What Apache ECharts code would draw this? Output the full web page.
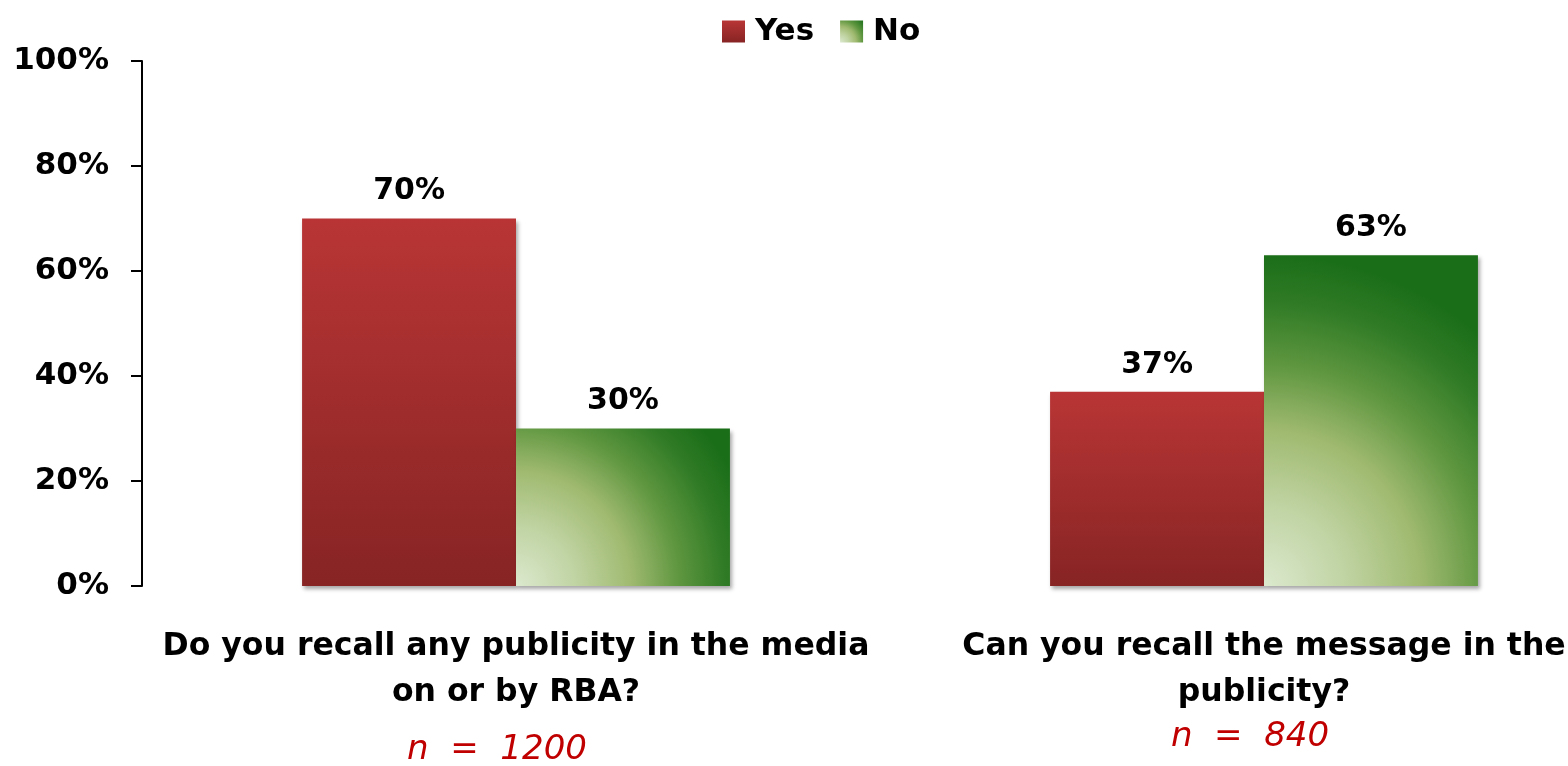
<!DOCTYPE html>
<html>
<head>
<meta charset="utf-8">
<script src="https://cdn.jsdelivr.net/npm/echarts@6/dist/echarts.min.js"></script>
<style>
html,body{margin:0;padding:0;background:#fff;}
#chart{width:1568px;height:766px;}
</style>
</head>
<body>
<div id="chart"></div>
<script>
const categories = [
  'Do you recall any publicity in the media\non or by RBA?',
  'Can you recall the message in the\npublicity?'
];
const sampleSizes = ['n = 1200', 'n = 840'];
const seriesNames = ['Yes', 'No'];
const yesValues = [70, 37];
const noValues = [30, 63];
const yTicks = [0, 20, 40, 60, 80, 100];

const FONT = '"DejaVu Sans", sans-serif';

const redGrad = new echarts.graphic.LinearGradient(0, 0, 0, 1, [
  {offset: 0, color: '#B93535'},
  {offset: 1, color: '#872424'}
]);
const greenGrad = new echarts.graphic.RadialGradient(0, 1, 1.55, [
  {offset: 0, color: '#DCE9CE'},
  {offset: 0.25, color: '#BFD3A2'},
  {offset: 0.47, color: '#A0BA70'},
  {offset: 0.67, color: '#5E963F'},
  {offset: 0.86, color: '#2F7A25'},
  {offset: 1, color: '#1B6E18'}
]);

const chart = echarts.init(document.getElementById('chart'));
const shadow = {
  shadowColor: 'rgba(0,0,0,0.35)',
  shadowBlur: 4,
  shadowOffsetX: 2,
  shadowOffsetY: 3
};
const labelCfg = {
  show: true,
  position: 'top',
  distance: 12,
  formatter: p => p.value + '%',
  color: '#000',
  fontFamily: FONT,
  fontWeight: 'bold',
  fontSize: 30
};

chart.setOption({
  animation: false,
  backgroundColor: '#fff',
  legend: {
    data: seriesNames,
    left: 717,
    top: 11,
    icon: 'rect',
    itemWidth: 23,
    itemHeight: 22,
    itemGap: 26,
    textStyle: {fontFamily: FONT, fontWeight: 'bold', fontSize: 31, color: '#000', padding: [0, 0, 0, 5]}
  },
  grid: {left: 142, width: 1496, top: 61, bottom: 180, containLabel: false, outerBoundsMode: 'none'},
  xAxis: {
    type: 'category',
    data: categories,
    axisLine: {show: false},
    axisTick: {show: false},
    axisLabel: {
      interval: 0,
      margin: 38,
      formatter: (v, i) => v.split('\n').map(l => '{q|' + l + '}').join('\n') +
        '\n{n' + i + '|' + sampleSizes[i].replace(/ /g, '  ') + '}',
      rich: {
        q: {fontFamily: FONT, fontWeight: 'bold', fontSize: 31.5, color: '#000', lineHeight: 46},
        n0: {fontFamily: FONT, fontStyle: 'italic', fontWeight: 200, fontSize: 34, color: '#C00000', lineHeight: 68, padding: [0, 38, 0, 0]},
        n1: {fontFamily: FONT, fontStyle: 'italic', fontWeight: 200, fontSize: 34, color: '#C00000', lineHeight: 42, padding: [0, 28, 0, 0]}
      }
    }
  },
  yAxis: {
    type: 'value',
    min: yTicks[0],
    max: yTicks[yTicks.length - 1],
    interval: 20,
    axisLine: {show: true, lineStyle: {color: '#000', width: 2}},
    axisTick: {show: true, length: 11, lineStyle: {color: '#000', width: 2}},
    splitLine: {show: false},
    axisLabel: {
      margin: 33,
      formatter: v => v + '%',
      color: '#000',
      fontFamily: FONT,
      fontWeight: 'bold',
      fontSize: 31
    }
  },
  series: [
    {
      name: seriesNames[0],
      type: 'bar',
      data: yesValues,
      barGap: '0%',
      barCategoryGap: '42.8%',
      itemStyle: Object.assign({color: redGrad}, shadow),
      label: labelCfg
    },
    {
      name: seriesNames[1],
      type: 'bar',
      data: noValues,
      itemStyle: Object.assign({color: greenGrad}, shadow),
      label: labelCfg
    }
  ]
});
</script>
</body>
</html>
